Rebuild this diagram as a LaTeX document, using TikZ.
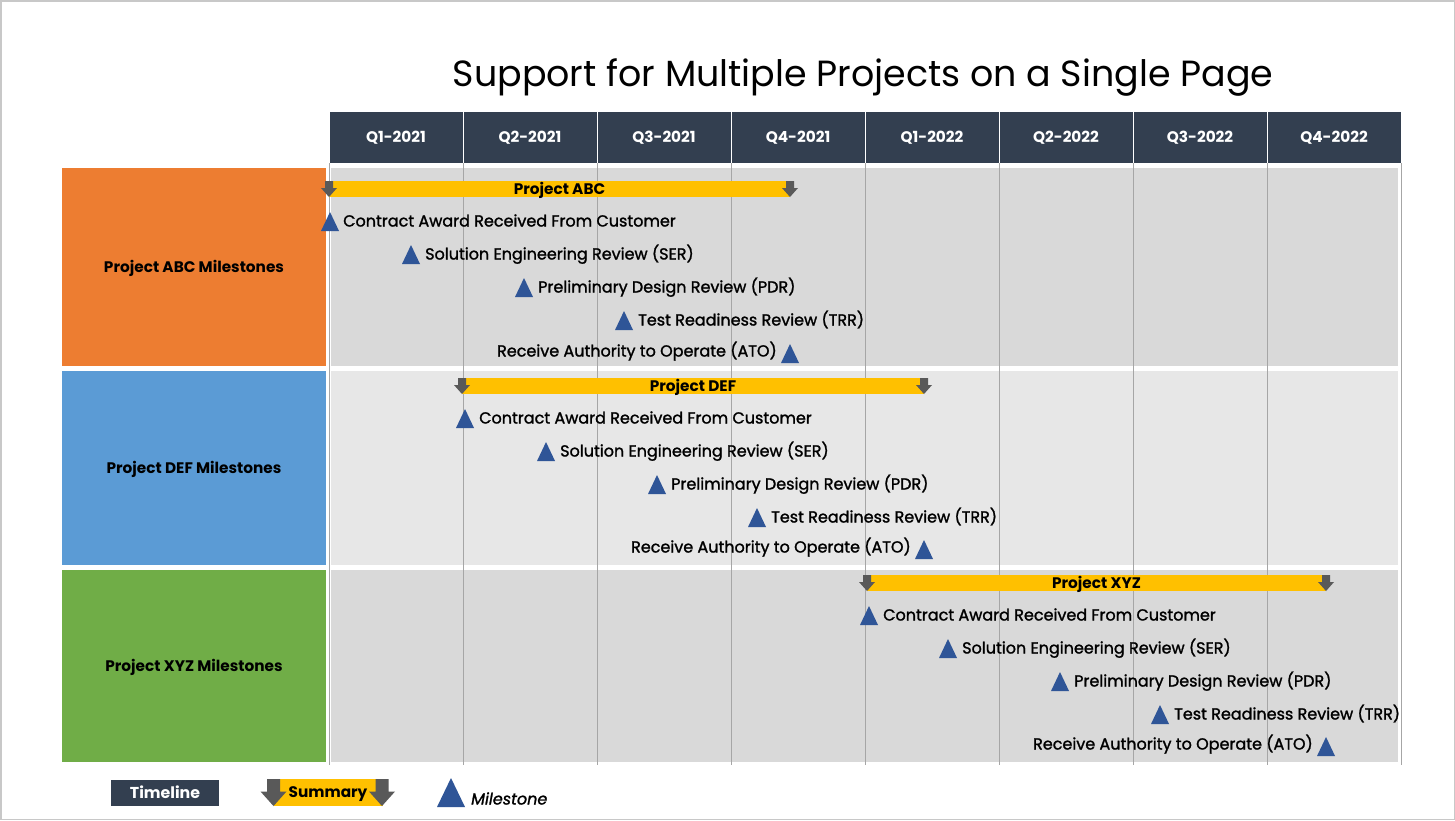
\documentclass[tikz,border=0pt]{standalone}
\usepackage{fontspec}
\setmainfont{Poppins}
\newfontfamily\medfont{Poppins}[FakeBold=1.4]
\definecolor{hdr}{HTML}{333F50}
\definecolor{rowgray}{HTML}{D9D9D9}
\definecolor{rowlight}{HTML}{E7E7E7}
\definecolor{barY}{HTML}{FFC000}
\definecolor{arrG}{HTML}{595959}
\definecolor{msB}{HTML}{2F5597}
\definecolor{gridG}{HTML}{A6A6A6}
\definecolor{oran}{HTML}{ED7D31}
\definecolor{blu}{HTML}{5B9BD5}
\definecolor{grn}{HTML}{70AD47}
\definecolor{bord}{HTML}{C8C8C8}
\tikzset{
  titletxt/.style={font=\fontsize{36.4}{42}\selectfont, inner sep=0},
  bfs/.style={font=\bfseries\fontsize{15.3}{18}\selectfont},
  hdrcell/.style={rectangle, fill=hdr, draw=white, line width=1pt, minimum width=134pt, minimum height=52pt, inner sep=0, text height=10.5pt, text depth=0pt, text=white, bfs},
  lblbox/.style={rectangle, minimum width=264pt, inner sep=0, text height=10.5pt, text depth=0pt, bfs},
  barbox/.style={rectangle, fill=barY, minimum height=16pt, inner sep=0, text height=10.5pt, text depth=0pt, bfs},
  mstxt/.style={inner sep=0, text height=11pt, text depth=0pt, font=\medfont\fontsize{16}{19}\selectfont},
  gridln/.style={draw=gridG, line width=1pt},
  ms/.pic={\fill[msB] (-9,10) -- (0,-9) -- (9,10) -- cycle;},
  sumarr/.pic={\fill[arrG] (-4,-8) -- (4,-8) -- (4,-1) -- (8,-1) -- (0,8) -- (-8,-1) -- (-4,-1) -- cycle;},
  legarr/.pic={\fill[arrG] (-6.5,-13.5) -- (6.5,-13.5) -- (6.5,-1) -- (13,-1) -- (0,13.5) -- (-13,-1) -- (-6.5,-1) -- cycle;},
}
\begin{document}
\begin{tikzpicture}[x=1pt,y=-1pt]
\useasboundingbox (0,0) rectangle (1455,820);
\fill[white] (0,0) rectangle (1455,820);
\draw[bord, line width=1.5pt] (0.75,0.75) rectangle (1454.25,819.25);
% title
\node[titletxt] (title) at (863,78) {Support for Multiple Projects on a Single Page};
% header
\foreach \i/\t in {0/Q1-2021,1/Q2-2021,2/Q3-2021,3/Q4-2021,4/Q1-2022,5/Q2-2022,6/Q3-2022,7/Q4-2022}
  \node[hdrcell] (q\i) at ({329+134*\i+67},137) {\t};
% row backgrounds
\fill[rowgray] (331,168) rectangle (1398,366);
\fill[rowlight] (331,371) rectangle (1398,565);
\fill[rowgray] (331,570) rectangle (1398,762);
% left labels
\node[lblbox, fill=oran, minimum height=198pt] (labc) at (194,267) {Project ABC Milestones};
\node[lblbox, fill=blu, minimum height=194pt] (ldef) at (194,468) {Project DEF Milestones};
\node[lblbox, fill=grn, minimum height=192pt] (lxyz) at (194,666) {Project XYZ Milestones};
% grid lines
\foreach \i in {0,...,8}
  \draw[gridln] ({329+134*\i},163) -- ({329+134*\i},765);
% summary bars
\node[barbox, minimum width=461pt] (barabc) at (559.5,189) {Project ABC};
\pic at (329,189) {sumarr};
\pic at (790,189) {sumarr};
\node[barbox, minimum width=462pt] (bardef) at (693,386) {Project DEF};
\pic at (462,386) {sumarr};
\pic at (924,386) {sumarr};
\node[barbox, minimum width=459pt] (barxyz) at (1096.5,583) {Project XYZ};
\pic at (867,583) {sumarr};
\pic at (1326,583) {sumarr};
% milestones ABC
\pic at (330,221) {ms}; \node[mstxt, anchor=west] (a1) at (343,221) {Contract Award Received From Customer};
\pic at (411,254) {ms}; \node[mstxt, anchor=west] (a2) at (425,254) {Solution Engineering Review (SER)};
\pic at (524,287) {ms}; \node[mstxt, anchor=west] (a3) at (538,287) {Preliminary Design Review (PDR)};
\pic at (624,320) {ms}; \node[mstxt, anchor=west] (a4) at (638,320) {Test Readiness Review (TRR)};
\pic at (790,353) {ms}; \node[mstxt, anchor=east] (a5) at (777,351) {Receive Authority to Operate (ATO)};
% milestones DEF
\pic at (465,418) {ms}; \node[mstxt, anchor=west] (d1) at (479,418) {Contract Award Received From Customer};
\pic at (546,451) {ms}; \node[mstxt, anchor=west] (d2) at (560,451) {Solution Engineering Review (SER)};
\pic at (657,484) {ms}; \node[mstxt, anchor=west] (d3) at (671,484) {Preliminary Design Review (PDR)};
\pic at (757,517) {ms}; \node[mstxt, anchor=west] (d4) at (771,517) {Test Readiness Review (TRR)};
\pic at (924,549) {ms}; \node[mstxt, anchor=east] (d5) at (911,547) {Receive Authority to Operate (ATO)};
% milestones XYZ
\pic at (869,615) {ms}; \node[mstxt, anchor=west] (x1) at (883,615) {Contract Award Received From Customer};
\pic at (948,648) {ms}; \node[mstxt, anchor=west] (x2) at (962,648) {Solution Engineering Review (SER)};
\pic at (1060,681) {ms}; \node[mstxt, anchor=west] (x3) at (1074,681) {Preliminary Design Review (PDR)};
\pic at (1160,714) {ms}; \node[mstxt, anchor=west] (x4) at (1174,714) {Test Readiness Review (TRR)};
\pic at (1326,746) {ms}; \node[mstxt, anchor=east] (x5) at (1313,744) {Receive Authority to Operate (ATO)};
% legend
\node[rectangle, fill=hdr, minimum width=108pt, minimum height=26pt, inner sep=0, text height=10.5pt, text depth=0pt, text=white, font=\bfseries\fontsize{15.8}{18}\selectfont] (legtl) at (165,793) {Timeline};
\node[rectangle, fill=barY, minimum width=109pt, minimum height=27pt, inner sep=0] (legsumbg) at (328,792.5) {};
\pic at (273.5,792.5) {legarr};
\pic at (382,792.5) {legarr};
\node[inner sep=0, text height=10.5pt, text depth=0pt, font=\bfseries\fontsize{15.3}{18}\selectfont] (legsum) at (328,792.5) {Summary};
\fill[msB] (437,807) -- (451,778) -- (465,807) -- cycle;
\node[inner sep=0, anchor=west, text height=11pt, text depth=0pt, font=\medfont\itshape\fontsize{16}{19}\selectfont] (legms) at (471,799) {Milestone};
\end{tikzpicture}
\end{document}
